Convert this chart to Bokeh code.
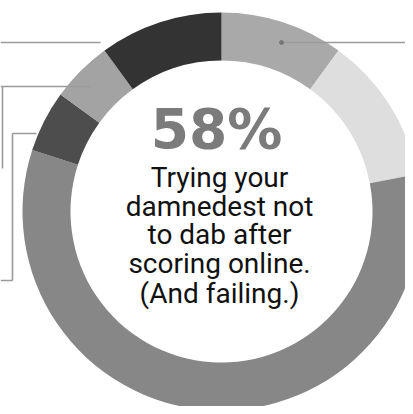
import numpy as np
from bokeh.plotting import figure
from bokeh.models import Range1d, ColumnDataSource
from bokeh.embed import file_html
from bokeh.resources import INLINE
from bokeh.core.properties import value

# Data (clockwise from 12 o'clock)
segments = ["A", "B", "Trying your damnedest not to dab", "D", "E", "F"]
shares = [10, 12, 58, 5, 5, 10]
colors = ["#a9a9a9", "#dedede", "#878787", "#4d4d4d", "#a3a3a3", "#333333"]
headline = "58%"
caption = ["Trying your", "damnedest not", "to dab after", "scoring online.", "(And failing.)"]

W, H = 405, 406
def px(X, Y):
    return X, H - Y

p = figure(width=W, height=H, output_backend="svg", toolbar_location=None,
           x_range=Range1d(0, W), y_range=Range1d(0, H), min_border=0)
p.axis.visible = False
p.grid.visible = False
p.outline_line_color = None
p.background_fill_color = "white"

cx, cy = px(221, 211)
total = sum(shares)
cum = np.concatenate([[0], np.cumsum(shares)]) / total
start = np.pi / 2 - 2 * np.pi * cum[:-1]
end = np.pi / 2 - 2 * np.pi * cum[1:]
src = ColumnDataSource(dict(start=start, end=end, color=colors, name=segments))
p.annular_wedge(x=cx, y=cy, inner_radius=151, outer_radius=199,
                start_angle="start", end_angle="end", direction="clock",
                fill_color="color", line_color=None, source=src)

# leader lines
lc = "#9a9a9a"
def seg(pts):
    xs, ys = zip(*[px(X, Y) for X, Y in pts])
    p.line(list(xs), list(ys), line_color=lc, line_width=1.6)
seg([(0, 42), (100, 42)])
seg([(280, 42), (405, 42)])
seg([(0, 86), (90, 86)])
seg([(2, 86), (2, 168)])
seg([(12, 133), (36, 133)])
seg([(12, 133), (12, 280)])
seg([(0, 280), (12, 280)])
dx, dy = px(281, 42)
p.scatter([dx], [dy], size=4, color="#777777")

tx, _ = px(216, 0)
_, hy = px(0, 128.5)
p.text(x=[tx], y=[hy], text=[headline], text_font=value("DejaVu Sans"),
       text_font_style="bold", text_font_size="55px", text_color="#7b7b7b",
       text_align="center", text_baseline="alphabetic")

base = [176.5, 205.5, 234, 263, 292.5]
cxs = [px(219, 0)[0]] * len(caption)
ys = [px(0, b)[1] for b in base]
p.text(x=cxs, y=ys, text=caption, text_font=value("Roboto"),
       text_font_size="28px", text_color="#111111",
       text_align="center", text_baseline="alphabetic")

open("out.html", "w").write(file_html(p, INLINE))
